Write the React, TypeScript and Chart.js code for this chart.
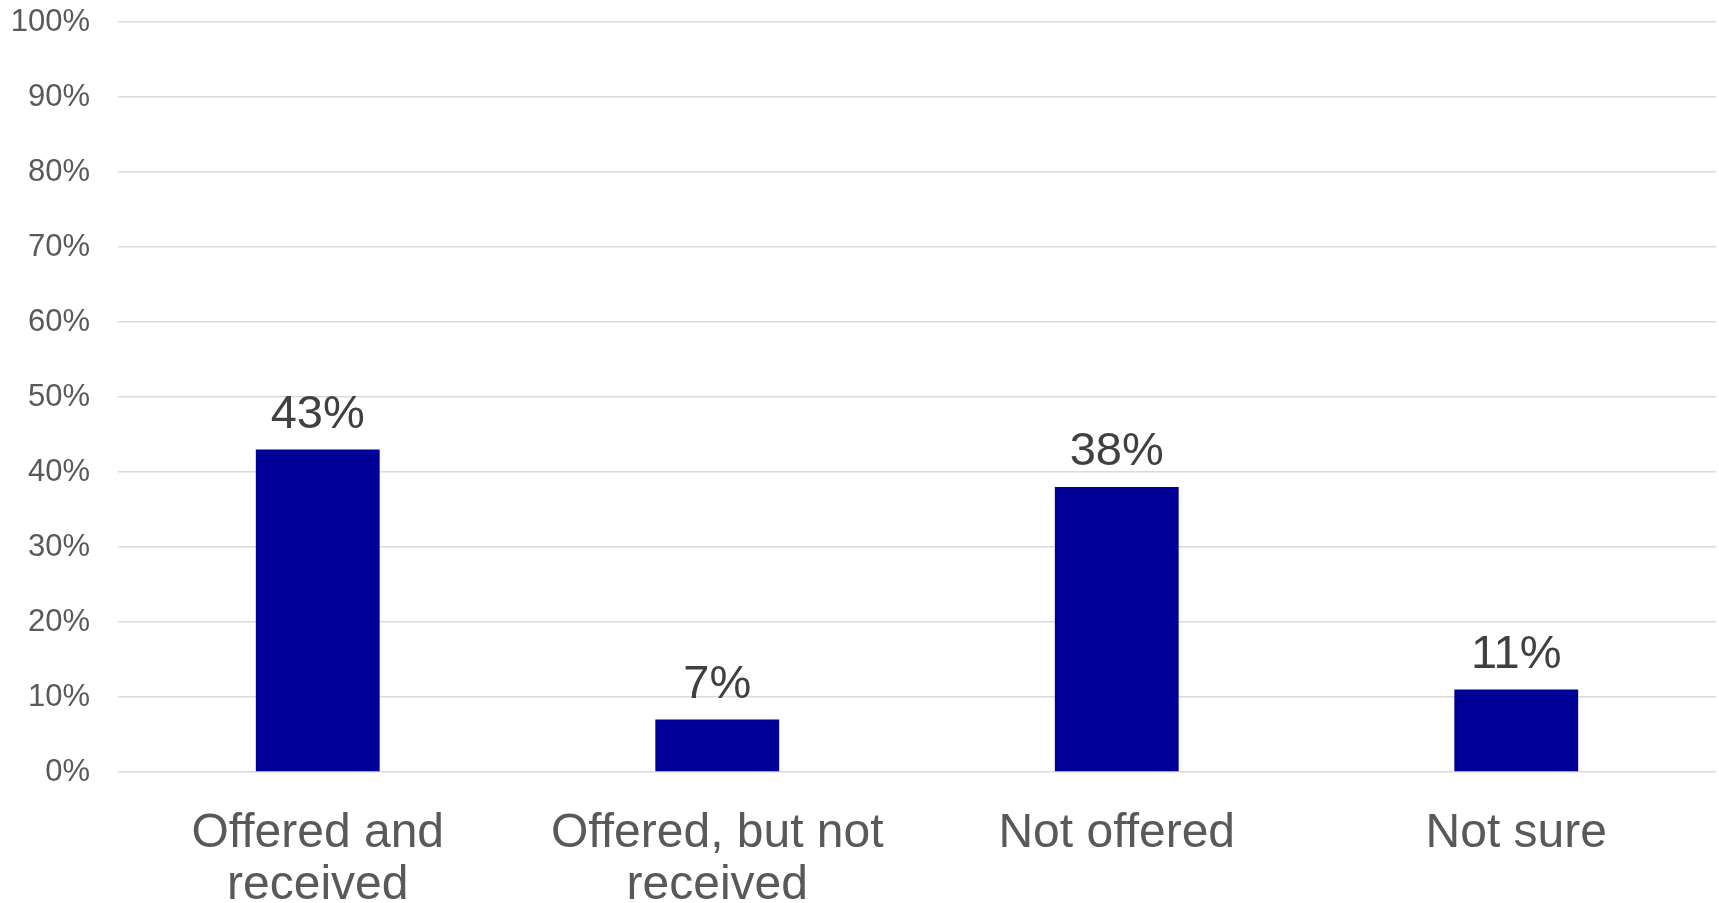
import React, { useEffect, useRef } from "react";
import { Chart, registerables } from "chart.js";

Chart.register(...registerables);

const categories: (string | string[])[] = [
  ["Offered and", "received"],
  ["Offered, but not", "received"],
  "Not offered",
  "Not sure",
];
const values: number[] = [43, 7, 38, 11];
const yTicks: number[] = [0, 10, 20, 30, 40, 50, 60, 70, 80, 90, 100];

const FONT = '"Liberation Sans", Arial, sans-serif';

const dataLabelPlugin = {
  id: "dataLabels",
  afterDatasetsDraw(chart: any) {
    const ctx = chart.ctx;
    const meta = chart.getDatasetMeta(0);
    ctx.save();
    ctx.font = `47px ${FONT}`;
    ctx.fillStyle = "#404040";
    ctx.textAlign = "center";
    ctx.textBaseline = "alphabetic";
    meta.data.forEach((bar: any, i: number) => {
      ctx.fillText(`${values[i]}%`, bar.x, bar.y - 22);
    });
    ctx.restore();
  },
};

export default function App() {
  const ref = useRef<HTMLCanvasElement>(null);
  useEffect(() => {
    document.body.style.margin = "0";
    const chart = new Chart(ref.current!, {
      type: "bar",
      data: {
        labels: categories,
        datasets: [
          {
            data: values,
            backgroundColor: "#000099",
            borderWidth: 0,
            categoryPercentage: 1,
            barPercentage: 0.31,
          },
        ],
      },
      options: {
        animation: false,
        responsive: false,
        maintainAspectRatio: false,
        layout: { padding: { top: 22, right: 3, left: 0, bottom: 0 } },
        plugins: { legend: { display: false }, tooltip: { enabled: false } },
        scales: {
          x: {
            grid: { display: false },
            border: { display: false },
            ticks: {
              color: "#595959",
              font: { family: FONT, size: 48, lineHeight: 1.1 },
              padding: 27,
              maxRotation: 0,
              autoSkip: false,
            },
            afterFit(scale: any) {
              scale.height = 131;
              scale.paddingTop = 0;
              scale.paddingBottom = 0;
              scale.paddingLeft = 0;
              scale.paddingRight = 0;
            },
          },
          y: {
            min: 0,
            max: 100,
            afterBuildTicks(scale: any) {
              scale.ticks = yTicks.map((v) => ({ value: v }));
            },
            grid: { color: "#d9d9d9", lineWidth: 1.5, drawTicks: false },
            border: { display: false },
            ticks: {
              color: "#595959",
              font: { family: FONT, size: 31 },
              padding: 28,
              callback: (v: any) => `${v}%`,
            },
            afterFit(scale: any) {
              scale.width = 118;
              scale.paddingTop = 0;
              scale.paddingBottom = 0;
            },
          },
        },
      },
      plugins: [dataLabelPlugin],
    });
    return () => chart.destroy();
  }, []);
  return (
    <div style={{ width: 1719, height: 903 }}>
      <canvas ref={ref} width={1719} height={903} style={{ display: "block" }} />
    </div>
  );
}
